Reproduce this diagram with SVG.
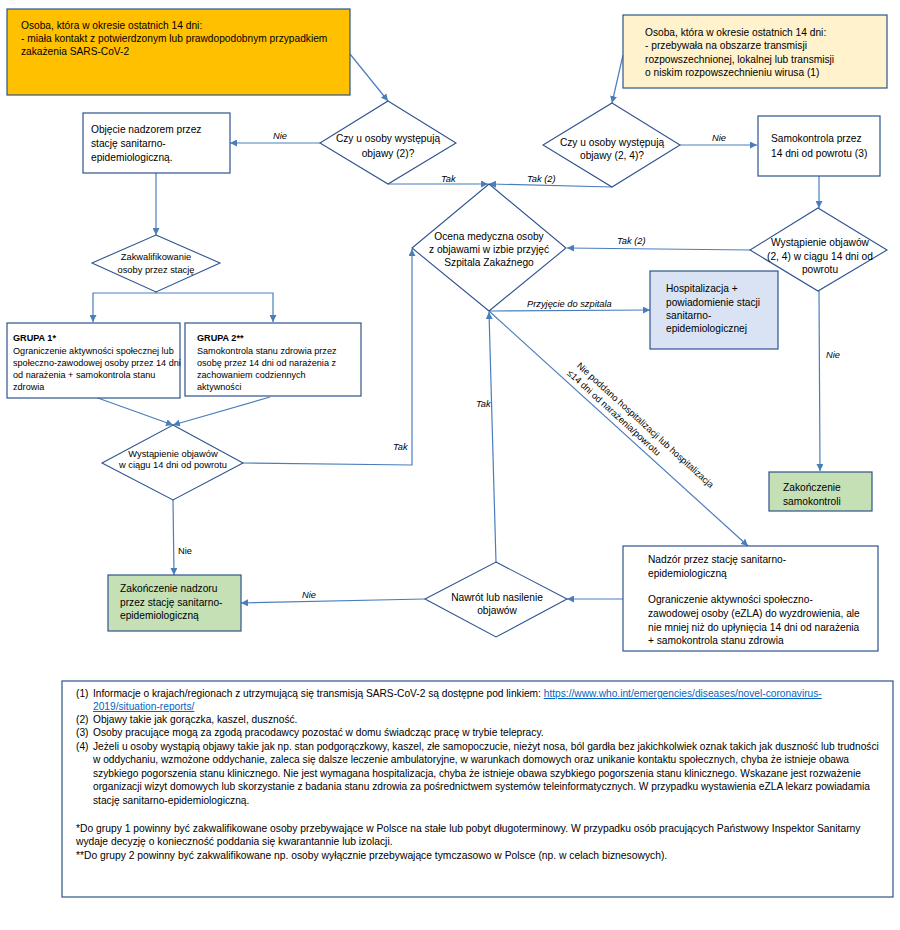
<svg xmlns="http://www.w3.org/2000/svg" width="900" height="930" viewBox="0 0 900 930">
<style>
text{font-family:"Liberation Sans",Arial,sans-serif;fill:#000;}
.t{font-size:10.2px;}
.s{font-size:9.3px;}
.g{font-size:9.1px;}
.c{text-anchor:middle;}
.lb{font-size:9.3px;font-style:italic;}
.box{stroke:#2F528F;stroke-width:1.2;fill:#fff;}
.dia{stroke:#2F528F;stroke-width:1.1;fill:#fff;}
.con{stroke:#4A7EBB;stroke-width:1.2;fill:none;marker-end:url(#ah);}
.n{font-size:10.2px;}
.f{font-size:10.3px;}
.lk{fill:#0563C1;text-decoration:underline;}
</style>
<defs>
<marker id="ah" viewBox="0 0 10 10" refX="10" refY="5" markerWidth="7" markerHeight="7" orient="auto" markerUnits="userSpaceOnUse"><path d="M0,0 L10,5 L0,10 z" fill="#4A7EBB"/></marker>
</defs>
<rect width="900" height="930" fill="#fff"/>

<g id="connectors">
<path class="con" d="M350,54 L388,101"/>
<path class="con" d="M320,143 L230,143"/>
<path class="con" d="M388,184 L488,184"/>
<path class="con" d="M623,55 L612,103"/>
<path class="con" d="M612,187 L489,184"/>
<path class="con" d="M680,145 L757,145"/>
<path class="con" d="M819,176 L819,208"/>
<path class="con" d="M750,250 L567,248"/>
<path class="con" d="M819,291 L820,471"/>
<path class="con" d="M489,311 L650,310"/>
<path class="con" d="M489,311 L748,546"/>
<path class="con" d="M156,173 L156,235"/>
<path class="con" d="M156,292 V293 H93 V322"/>
<path class="con" d="M156,293 H273 V322"/>
<path class="con" d="M95,397 L173,425"/>
<path class="con" d="M270,397 L173,425"/>
<path class="con" d="M243,463 L412,465 L412,249"/>
<path class="con" d="M173,500 L174,575"/>
<path class="con" d="M425,599 L241,603"/>
<path class="con" d="M496,562 L489,312"/>
<path class="con" d="M623,599 L567,599"/>
<text class="lb" x="273" y="139">Nie</text>
<text class="lb" x="441" y="182">Tak</text>
<text class="lb" x="527" y="182">Tak (2)</text>
<text class="lb" x="712" y="141">Nie</text>
<text class="lb" x="617" y="244">Tak (2)</text>
<text class="lb" x="527" y="307">Przyjęcie do szpitala</text>
<text class="lb" x="826" y="358">Nie</text>
<text class="lb" x="476" y="407">Tak</text>
<text class="lb" x="393" y="450">Tak</text>
<text class="s" x="178" y="554">Nie</text>
<text class="lb" x="302" y="598">Nie</text>
<g transform="translate(490,311) rotate(42.3)">
<text class="s" x="101" y="-17">Nie poddano hospitalizacji lub hospitalizacja</text>
<text class="s" x="99" y="-5">≤14 dni od narażenia/powrotu</text>
</g>
</g>

<g id="start-contact">
<rect x="7" y="9" width="343" height="86" fill="#FFC000" stroke="#2F528F" stroke-width="1.2"/>
<text class="t" x="21" y="29">Osoba, która w okresie ostatnich 14 dni:</text>
<text class="t" x="21" y="42">- miała kontakt z potwierdzonym lub prawdopodobnym przypadkiem</text>
<text class="t" x="21" y="55">zakażenia SARS-CoV-2</text>
</g>

<g id="start-travel">
<rect x="623" y="15" width="264" height="73" fill="#FFF2CC" stroke="#2F528F" stroke-width="1.2"/>
<text class="t" x="645" y="36">Osoba, która w okresie ostatnich 14 dni:</text>
<text class="t" x="645" y="49">- przebywała na obszarze transmisji</text>
<text class="t" x="645" y="63">rozpowszechnionej, lokalnej lub  transmisji</text>
<text class="t" x="645" y="76">o niskim rozpowszechnieniu wirusa (1)</text>
</g>

<g id="q-symptoms-1">
<polygon class="dia" points="388,101 456,143 388,184 320,143"/>
<text class="t c" x="388" y="142">Czy u osoby występują</text>
<text class="t c" x="388" y="157">objawy (2)?</text>
</g>

<g id="q-symptoms-2">
<polygon class="dia" points="612,103 680,145 612,187 543,145"/>
<text class="t c" x="612" y="146">Czy u osoby występują</text>
<text class="t c" x="612" y="159">objawy (2, 4)?</text>
</g>

<g id="supervision">
<rect class="box" x="83" y="113" width="147" height="60"/>
<text class="t" x="91" y="133">Objęcie nadzorem przez</text>
<text class="t" x="91" y="147">stację sanitarno-</text>
<text class="t" x="91" y="161">epidemiologiczną.</text>
</g>

<g id="self-monitoring">
<rect class="box" x="758" y="116" width="122" height="60"/>
<text class="t" x="771" y="142">Samokontrola przez</text>
<text class="t" x="771" y="157">14 dni od powrotu (3)</text>
</g>

<g id="qualification">
<polygon class="dia" points="156,235 220,263 156,292 92,263"/>
<text class="s c" x="156" y="260">Zakwalifikowanie</text>
<text class="s c" x="156" y="273">osoby przez stację</text>
</g>

<g id="group1">
<rect class="box" x="7" y="323" width="173" height="75"/>
<text class="g" x="13" y="341" font-weight="bold">GRUPA 1*</text>
<text class="g" x="13" y="353.5">Ograniczenie aktywności społecznej lub</text>
<text class="g" x="13" y="366">społeczno-zawodowej osoby przez 14 dni</text>
<text class="g" x="13" y="378">od narażenia + samokontrola stanu</text>
<text class="g" x="13" y="390">zdrowia</text>
</g>

<g id="group2">
<rect class="box" x="185" y="323" width="176" height="73"/>
<text class="g" x="197" y="341" font-weight="bold">GRUPA 2**</text>
<text class="g" x="197" y="353.5">Samokontrola stanu zdrowia przez</text>
<text class="g" x="197" y="366">osobę przez 14 dni od narażenia z</text>
<text class="g" x="197" y="378">zachowaniem codziennych</text>
<text class="g" x="197" y="390">aktywności</text>
</g>

<g id="q-onset-left">
<polygon class="dia" points="173,425 243,463 173,500 102,463"/>
<text class="s c" x="173" y="457">Wystąpienie objawów</text>
<text class="s c" x="173" y="468">w ciągu 14 dni od powrotu</text>
</g>

<g id="medical-assessment">
<polygon class="dia" points="489,184 566,248 489,311 412,248"/>
<text class="t c" x="489" y="240">Ocena medyczna osoby</text>
<text class="t c" x="489" y="253">z objawami w izbie przyjęć</text>
<text class="t c" x="489" y="266">Szpitala Zakaźnego</text>
</g>

<g id="q-onset-right">
<polygon class="dia" points="818,208 887,250 818,291 750,250"/>
<text class="t c" x="820" y="246">Wystąpienie objawów</text>
<text class="t c" x="820" y="260">(2, 4) w ciągu 14 dni od</text>
<text class="t c" x="820" y="273">powrotu</text>
</g>

<g id="hospitalization">
<rect x="650" y="271" width="128" height="78" fill="#DAE3F3" stroke="#2F528F" stroke-width="1.2"/>
<text class="t" x="666" y="292">Hospitalizacja +</text>
<text class="t" x="666" y="306">powiadomienie stacji</text>
<text class="t" x="666" y="319">sanitarno-</text>
<text class="t" x="666" y="332">epidemiologicznej</text>
</g>

<g id="end-self-monitoring">
<rect x="769" y="472" width="103" height="39" fill="#C5E0B4" stroke="#2F528F" stroke-width="1.2"/>
<text class="t" x="783" y="491">Zakończenie</text>
<text class="t" x="783" y="505">samokontroli</text>
</g>

<g id="end-supervision">
<rect x="108" y="575" width="133" height="56" fill="#C5E0B4" stroke="#2F528F" stroke-width="1.2"/>
<text class="t" x="120" y="592">Zakończenie nadzoru</text>
<text class="t" x="120" y="606">przez stację sanitarno-</text>
<text class="t" x="120" y="619">epidemiologiczną</text>
</g>

<g id="q-relapse">
<polygon class="dia" points="496,562 567,599 496,637 425,599"/>
<text class="t c" x="497" y="601">Nawrót lub nasilenie</text>
<text class="t c" x="497" y="614">objawów</text>
</g>

<g id="supervision-2">
<rect class="box" x="623" y="546" width="255" height="105"/>
<text class="t" x="648" y="563">Nadzór przez stację sanitarno-</text>
<text class="t" x="648" y="577">epidemiologiczną</text>
<text class="t" x="648" y="603">Ograniczenie aktywności społeczno-</text>
<text class="t" x="648" y="617">zawodowej osoby (eZLA) do wyzdrowienia, ale</text>
<text class="t" x="648" y="631">nie mniej niż do upłynięcia 14 dni od narażenia</text>
<text class="t" x="648" y="644">+ samokontrola stanu zdrowia</text>
</g>

<g id="notes">
<rect class="box" x="62" y="681" width="831" height="216"/>
<text class="n" x="76" y="697">(1)</text>
<text class="n" x="93" y="697">Informacje o krajach/regionach z utrzymującą się transmisją SARS-CoV-2 są dostępne pod linkiem: <tspan class="lk">https://www.who.int/emergencies/diseases/novel-coronavirus-</tspan></text>
<text class="n lk" x="93" y="710">2019/situation-reports/</text>
<text class="n" x="76" y="723">(2)</text>
<text class="n" x="93" y="723">Objawy takie jak gorączka, kaszel, duszność.</text>
<text class="n" x="76" y="736">(3)</text>
<text class="n" x="93" y="736">Osoby pracujące mogą za zgodą pracodawcy pozostać w domu świadcząc pracę w trybie telepracy.</text>
<text class="n" x="76" y="750">(4)</text>
<text class="n" x="93" y="750">Jeżeli u osoby wystąpią  objawy takie jak np. stan podgorączkowy, kaszel, złe samopoczucie, nieżyt nosa, ból gardła bez jakichkolwiek oznak takich jak duszność lub trudności</text>
<text class="n" x="93" y="763">w oddychaniu, wzmożone oddychanie, zaleca się dalsze leczenie ambulatoryjne, w warunkach domowych oraz unikanie kontaktu społecznych, chyba że istnieje obawa</text>
<text class="n" x="93" y="777">szybkiego pogorszenia stanu klinicznego. Nie jest wymagana hospitalizacja, chyba że istnieje obawa szybkiego pogorszenia stanu klinicznego.  Wskazane jest rozważenie</text>
<text class="n" x="93" y="790">organizacji wizyt domowych lub skorzystanie z badania stanu zdrowia za pośrednictwem systemów teleinformatycznych. W przypadku wystawienia eZLA lekarz powiadamia</text>
<text class="n" x="93" y="804">stację sanitarno-epidemiologiczną.</text>
<text class="f" x="76" y="832">*Do grupy 1 powinny być zakwalifikowane osoby przebywające w Polsce na stałe lub pobyt długoterminowy. W przypadku osób pracujących Państwowy Inspektor Sanitarny</text>
<text class="f" x="76" y="845">wydaje decyzję o konieczność poddania się kwarantannie lub izolacji.</text>
<text class="f" x="76" y="859">**Do grupy 2 powinny być zakwalifikowane np. osoby wyłącznie przebywające tymczasowo w Polsce (np. w celach biznesowych).</text>
</g>
</svg>
